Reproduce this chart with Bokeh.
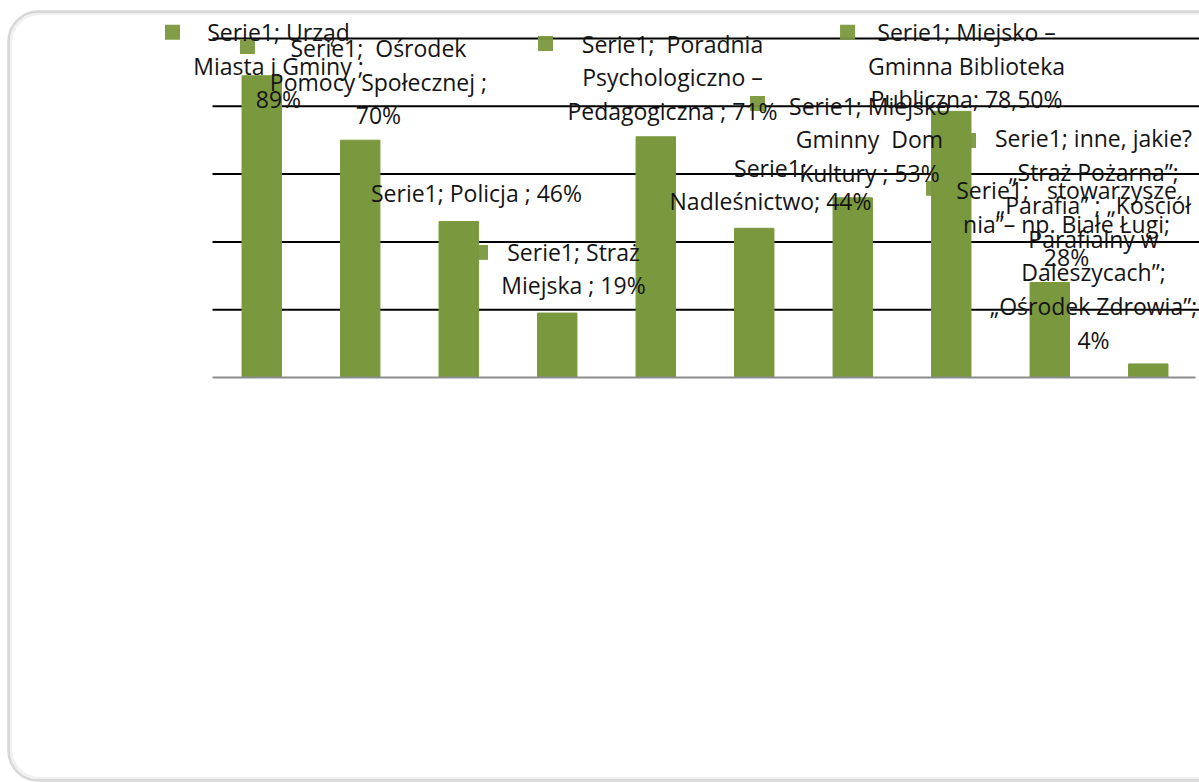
from bokeh.plotting import figure
from bokeh.models import Range1d, BoxAnnotation, ColumnDataSource
from bokeh.core.properties import value
from bokeh.embed import file_html
from bokeh.resources import INLINE

# ---- data ----
categories = [
    "Urząd Miasta i Gminy",
    "Ośrodek Pomocy Społecznej",
    "Policja",
    "Straż Miejska",
    "Poradnia Psychologiczno – Pedagogiczna",
    "Nadleśnictwo",
    "Miejsko Gminny Dom Kultury",
    "Miejsko – Gminna Biblioteka Publiczna",
    "stowarzyszenia – np. Białe Ługi",
    "inne, jakie?",
]
values = [89, 70, 46, 19, 71, 44, 53, 78.5, 28, 4]
series_name = "Serie1"
NB = "\u00a0"
label_texts = [
    "Serie1; Urząd\nMiasta i Gminy ;\n89%",
    "Serie1;" + NB + " Ośrodek\nPomocy Społecznej ;\n70%",
    "Serie1; Policja ; 46%",
    "Serie1; Straż\nMiejska ; 19%",
    "Serie1;" + NB + " Poradnia\nPsychologiczno –\nPedagogiczna ; 71%",
    "Serie1;\nNadleśnictwo; 44%",
    "Serie1; Miejsko\nGminny" + NB + " Dom\nKultury ; 53%",
    "Serie1; Miejsko –\nGminna Biblioteka\nPubliczna; 78,50%",
    "Serie1;" + NB + NB + " stowarzysze\nnia”– np. Białe Ługi;\n28%",
    "Serie1; inne, jakie?\n„Straż Pożarna”;\n„Parafia” ; „Kościół\nParafialny w\nDaleszycach”;\n„Ośrodek Zdrowia”;\n4%",
]
gridline_values = [20, 40, 60, 80, 100]

# ---- layout (label placement, as in the original overlapping labels) ----
label_x = [0.670, 1.685, 2.680, 3.665, 4.670, 5.665, 6.670, 7.655, 8.670, 8.944]
label_y = [92.0, 87.3, 54.3, 32.2, 88.5, 56.9, 70.2, 92.0, 45.4, 40.9]
key_x = [-0.406, 0.355, 1.371, 2.721, 3.381, 4.416, 5.533, 6.447, 7.32, 7.675]
key_y = [101.8, 97.6, 54.6, 36.9, 98.5, 62.2, 80.8, 101.8, 55.8, 69.9]

W, H = 1199, 782
BAR = "#7A983D"

p = figure(width=W, height=H, output_backend="svg", toolbar_location=None,
           x_range=Range1d(-2.152, 10.02), y_range=Range1d(-119.47, 111.2),
           x_axis_type=None, y_axis_type=None, min_border=0)
p.outline_line_color = None
p.background_fill_color = "white"
p.border_fill_color = "white"

# rounded outer frame with soft shadow
shadow = BoxAnnotation(left=-2.05, right=11, top=107.4, bottom=-118.3,
                       fill_color=None, line_color="#d0d0d0", line_width=3,
                       border_radius=30)
frame = BoxAnnotation(left=-2.071, right=11, top=107.96, bottom=-118.9,
                      fill_color=None, line_color="#7f7f7f", line_width=2.5,
                      border_radius=30)
p.add_layout(shadow)
p.add_layout(frame)

n = len(categories)
xs = [i + 0.5 for i in range(n)]

# gridlines
p.segment(x0=[0] * len(gridline_values), x1=[10.2] * len(gridline_values),
          y0=gridline_values, y1=gridline_values, line_color="black", line_width=2)

# bars
src = ColumnDataSource(dict(x=xs, top=values, cat=categories))
p.vbar(x="x", top="top", width=0.4, source=src, fill_color=BAR, line_color=BAR)

# baseline
p.segment(x0=[0], x1=[9.98], y0=[0], y1=[0], line_color="#8c8c8c", line_width=2)

# label keys
p.scatter(x=key_x, y=key_y, marker="square", size=15,
          fill_color=BAR, line_color=None, fill_alpha=0.95)

# labels
lsrc = ColumnDataSource(dict(x=label_x, y=label_y, text=label_texts))
p.text(x="x", y="y", text="text", source=lsrc,
       text_font=value("Open Sans"), text_font_size="23px",
       text_color="#141414", text_align="center", text_baseline="middle",
       text_line_height=1.05)

open("out.html", "w").write(file_html(p, INLINE))
